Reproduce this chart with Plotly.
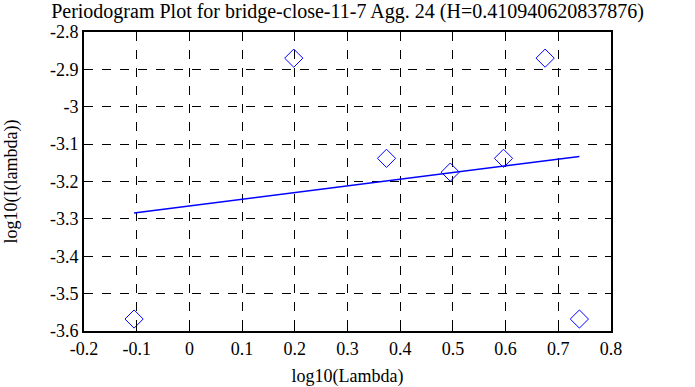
import plotly.graph_objects as go

title_text = "Periodogram Plot for bridge-close-11-7 Agg. 24 (H=0.410940620837876)"
x_label = "log10(Lambda)"
y_label = "log10(I(lambda))"

pts_x = [-0.105, 0.198, 0.374, 0.495, 0.596, 0.675, 0.740]
pts_y = [-3.568, -2.870, -3.138, -3.175, -3.138, -2.870, -3.568]

fit_x = [-0.105, 0.740]
fit_y = [-3.284, -3.133]

x_ticks = [-0.2, -0.1, 0.0, 0.1, 0.2, 0.3, 0.4, 0.5, 0.6, 0.7, 0.8]
x_tick_text = ["-0.2", "-0.1", "0", "0.1", "0.2", "0.3", "0.4", "0.5", "0.6", "0.7", "0.8"]
y_ticks = [-3.6, -3.5, -3.4, -3.3, -3.2, -3.1, -3.0, -2.9, -2.8]
y_tick_text = ["-3.6", "-3.5", "-3.4", "-3.3", "-3.2", "-3.1", "-3", "-2.9", "-2.8"]

font_family = "Times New Roman, Liberation Serif, serif"

fig = go.Figure()
fig.add_trace(go.Scatter(
    x=fit_x, y=fit_y, mode="lines",
    line=dict(color="#0000ff", width=1.5),
    showlegend=False, hoverinfo="skip"))
fig.add_trace(go.Scatter(
    x=pts_x, y=pts_y, mode="markers",
    marker=dict(symbol="diamond-open", size=14, color="#0000ff", line=dict(width=1)),
    showlegend=False))

axis_common = dict(
    showgrid=True, gridcolor="black", griddash="dash", gridwidth=1,
    showline=True, linecolor="black", linewidth=2, mirror="ticks",
    ticks="inside", ticklen=6, tickcolor="black", tickwidth=1,
    zeroline=False, automargin=False,
    tickfont=dict(family=font_family, size=18, color="black"),
)

fig.update_layout(
    width=695, height=387,
    margin=dict(l=84, r=84, t=32, b=56, autoexpand=False),
    paper_bgcolor="white", plot_bgcolor="white",
    font=dict(family=font_family, size=18, color="black"),
    title=dict(text=title_text, x=0.5, xanchor="center", y=0.971, yanchor="middle",
               font=dict(family=font_family, size=20, color="black")),
    xaxis=dict(range=[-0.2, 0.8], tickvals=x_ticks, ticktext=x_tick_text,
               title=dict(text=x_label, standoff=20,
                          font=dict(family=font_family, size=18, color="black")),
               **axis_common),
    yaxis=dict(range=[-3.6, -2.8], tickvals=y_ticks, ticktext=y_tick_text,
               title=dict(text=y_label, standoff=28,
                          font=dict(family=font_family, size=18, color="black")),
               **axis_common),
)

fig.write_html("out.html", config={"displayModeBar": False},
               post_script="document.body.style.margin='0';")
